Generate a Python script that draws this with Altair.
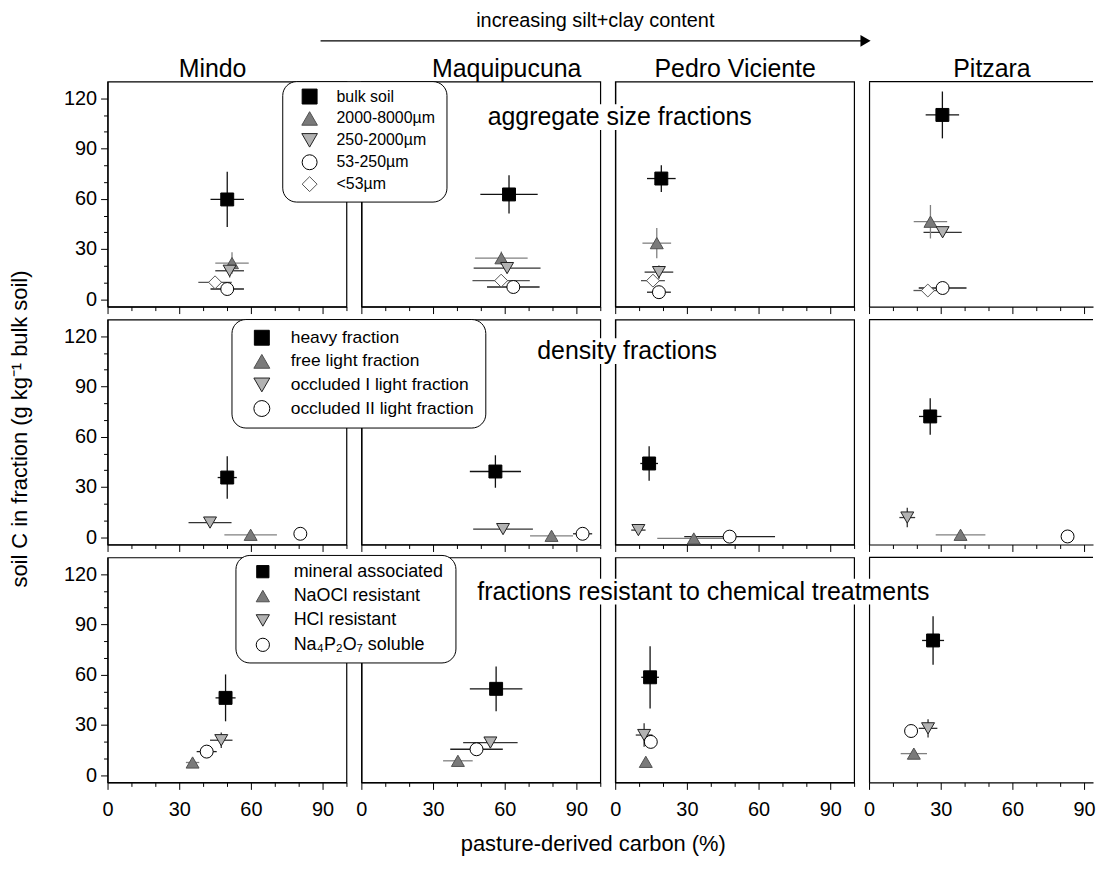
import altair as alt
import pandas as pd

FONT = "Liberation Sans"

SITES = ["Mindo", "Maquipucuna", "Pedro Viciente", "Pitzara"]
GROUPS = ["agg", "dens", "chem"]
GROUP_TITLES = ["aggregate size fractions", "density fractions",
                "fractions resistant to chemical treatments"]
KEYS = ["sq", "tu", "td", "ci", "di"]

AGG_LABELS = ["bulk soil", "2000-8000µm", "250-2000µm", "53-250µm", "<53µm"]
DENS_LABELS = ["heavy fraction", "free light fraction",
               "occluded I light fraction", "occluded II light fraction"]
CHEM_LABELS = ["mineral associated", "NaOCl resistant", "HCl resistant",
               "Na₄P₂O₇ soluble"]

# aggregate size fractions (bulk, 2000-8000, 250-2000, 53-250, <53)
AGG_X = {"Mindo": [50.1, 52.1, 51.1, 50.1, 45.0],
         "Maquipucuna": [61.8, 58.6, 61.0, 63.6, 58.5],
         "Pedro Viciente": [19.3, 17.4, 18.3, 18.3, 15.8],
         "Pitzara": [30.7, 25.7, 30.8, 30.8, 24.6]}
AGG_XE = {"Mindo": [7, 7, 6, 7, 7],
          "Maquipucuna": [12, 11, 14, 11, 12],
          "Pedro Viciente": [6, 6, 6, 5, 5],
          "Pitzara": [7, 7, 8, 10, 6]}
AGG_Y = {"Mindo": [59.6, 21.6, 17.0, 6.1, 10.1],
         "Maquipucuna": [62.6, 24.5, 18.6, 7.3, 11.1],
         "Pedro Viciente": [72.1, 33.5, 16.2, 4.2, 11.1],
         "Pitzara": [110.1, 46.3, 40.0, 6.7, 5.2]}
AGG_YE = {"Mindo": [16.5, 6.4, 4, 0, 0],
          "Maquipucuna": [11.4, 4, 3, 0, 0],
          "Pedro Viciente": [8, 9, 4, 0, 0],
          "Pitzara": [14, 10, 2, 0, 0]}

# density fractions (heavy, free light, occluded I, occluded II)
DENS_X = {"Mindo": [50.1, 59.9, 42.9, 80.7],
          "Maquipucuna": [56.1, 79.6, 59.3, 92.6],
          "Pedro Viciente": [14.2, 32.9, 9.7, 47.9],
          "Pitzara": [25.6, 38.3, 16.0, 83.1]}
DENS_XE = {"Mindo": [4, 11, 9, 0],
           "Maquipucuna": [10.7, 9, 12.5, 4],
           "Pedro Viciente": [3.7, 15.3, 3, 19],
           "Pitzara": [4.7, 10.4, 3.3, 0]}
DENS_Y = {"Mindo": [35.6, 1.4, 8.7, 2.0],
          "Maquipucuna": [39.2, 0.8, 4.8, 2.0],
          "Pedro Viciente": [44.0, -0.8, 4.2, 0.3],
          "Pitzara": [72.1, 1.4, 11.7, 0.4]}
DENS_YE = {"Mindo": [12.7, 0, 0, 0],
           "Maquipucuna": [9.7, 0, 0, 0],
           "Pedro Viciente": [10.3, 0, 0, 0],
           "Pitzara": [10.9, 0, 5.8, 0]}

# chemical fractions (mineral assoc., NaOCl res., HCl res., Na4P2O7 sol.)
CHEM_X = {"Mindo": [49.4, 35.6, 47.6, 41.5],
          "Maquipucuna": [56.4, 40.4, 54.0, 48.2],
          "Pedro Viciente": [14.6, 12.8, 12.1, 14.9],
          "Pitzara": [26.8, 18.75, 24.7, 17.6]}
CHEM_XE = {"Mindo": [4.2, 2.8, 4.7, 4.2],
           "Maquipucuna": [11, 6.2, 11.4, 11],
           "Pedro Viciente": [3.7, 0, 3.5, 0],
           "Pitzara": [4.6, 5.5, 3.9, 0]}
CHEM_Y = {"Mindo": [46.1, 7.5, 20.8, 14.0],
          "Maquipucuna": [51.5, 8.5, 19.4, 15.4],
          "Pedro Viciente": [58.4, 7.9, 23.9, 19.8],
          "Pitzara": [80.4, 12.8, 27.9, 26.3]}
CHEM_YE = {"Mindo": [14, 0, 4.6, 0],
           "Maquipucuna": [13.4, 0, 3, 0],
           "Pedro Viciente": [18.6, 0, 7, 0],
           "Pitzara": [14.5, 0, 5.5, 0]}

X_TITLE = "pasture-derived carbon (%)"
Y_TITLE = "soil C  in fraction (g kg⁻¹ bulk soil)"
ARROW_TEXT = "increasing silt+clay content"

# ---------------------------------------------------------------- data table
records = []
for g, X, XE, Y, YE in [("agg", AGG_X, AGG_XE, AGG_Y, AGG_YE),
                        ("dens", DENS_X, DENS_XE, DENS_Y, DENS_YE),
                        ("chem", CHEM_X, CHEM_XE, CHEM_Y, CHEM_YE)]:
    for s in SITES:
        for k, x, xe, y, ye in zip(KEYS, X[s], XE[s], Y[s], YE[s]):
            records.append(dict(g=g, site=s, key=k, x=x, xe=xe, y=y, ye=ye))
df = pd.DataFrame(records)
DUMMY = pd.DataFrame({"d": [0]})

SHAPE = {"sq": "square", "tu": "triangle-up", "td": "triangle-down",
         "ci": "circle", "di": "diamond"}
FILL = {"sq": "#000000", "tu": "#7a7a7a", "td": "#b2b2b2",
        "ci": "#ffffff", "di": "#ffffff"}
STROKE = {"sq": "#000000", "tu": "#505050", "td": "#202020",
          "ci": "#000000", "di": "#555555"}
ERRC = {"sq": "#111111", "tu": "#808080", "td": "#333333",
        "ci": "#222222", "di": "#555555"}
PT_SIZE = [{"sq": 169, "tu": 169, "td": 160, "ci": 151, "di": 144},
           {"sq": 175, "tu": 175, "td": 165, "ci": 151, "di": 144},
           {"sq": 137, "tu": 160, "td": 150, "ci": 140, "di": 140}]

W, H = 240, 226
W_LAST = 225
YDOM = [-4.4, 130]
TICK_COND = {"condition": {"test": "datum.value % 30 === 0", "value": 7}, "value": 4}
LAB_EXPR = "datum.value % 30 === 0 ? datum.label : ''"


def txt(text, x, y, size, align="center", baseline="middle", angle=0):
    kw = dict(text=text, font=FONT, fontSize=size, align=align,
              baseline=baseline, color="black", clip=False)
    if angle:
        kw["angle"] = angle
    return alt.Chart(DUMMY).mark_text(**kw).encode(x=alt.value(x), y=alt.value(y))


def box(x1, x2, y1, y2, radius=0, stroked=False):
    kw = dict(fill="white", clip=False)
    if radius:
        kw["cornerRadius"] = radius
    if stroked:
        kw.update(stroke="black", strokeWidth=1)
    return alt.Chart(DUMMY).mark_rect(**kw).encode(
        x=alt.value(x1), x2=alt.value(x2), y=alt.value(y1), y2=alt.value(y2))


def sym(key, x, y, size):
    return alt.Chart(DUMMY).mark_point(
        shape=SHAPE[key], strokeWidth=1, size=size, opacity=1, clip=False
    ).encode(x=alt.value(x), y=alt.value(y),
             fill=alt.value(FILL[key]), stroke=alt.value(STROKE[key]))


def legend(labels, x0, x1, y0, y1, sx, tx, ty0, dy, fs, sizes):
    layers = [box(x0, x1, y0, y1, radius=14, stroked=True)]
    for i, lab in enumerate(labels):
        k = KEYS[i]
        layers.append(sym(k, sx, ty0 + i * dy, sizes[k]))
        layers.append(txt(lab, tx, ty0 + i * dy, fs, align="left"))
    return layers


def panel(gi, si):
    g = GROUPS[gi]
    last = si == 3
    w = W if not last else W_LAST
    xmax = 100 if not last else W_LAST / 2.4
    xs = alt.Scale(domain=[0, xmax], nice=False, zero=False)
    ys = alt.Scale(domain=YDOM, nice=False, zero=False)
    xaxis = alt.Axis(values=list(range(0, int(xmax) + 1, 10)), title=None, grid=False,
                     labels=(gi == 2), labelExpr=LAB_EXPR, ticks=True,
                     tickSize=TICK_COND, tickColor="black", tickWidth=1,
                     domain=True, domainColor="black", domainWidth=1.2,
                     labelFont=FONT, labelFontSize=20, labelColor="black",
                     labelPadding=10, labelFlush=False, labelOverlap=False, zindex=0)
    yaxis = alt.Axis(values=list(range(0, 121, 10)), title=None, grid=False,
                     labels=(si == 0), ticks=(si == 0), labelExpr=LAB_EXPR,
                     tickSize=TICK_COND, tickColor="black", tickWidth=1,
                     domain=True, domainColor="black", domainWidth=1.2,
                     labelFont=FONT, labelFontSize=20, labelColor="black",
                     labelPadding=4, labelOverlap=False, zindex=0)

    base = alt.Chart(df).transform_filter(
        f"datum.g === '{g}' && datum.site === '{SITES[si]}'"
    ).transform_calculate(
        xlo="datum.x - datum.xe", xhi="datum.x + datum.xe",
        ylo="datum.y - datum.ye", yhi="datum.y + datum.ye")

    ecol = alt.Color("key:N", scale=alt.Scale(domain=KEYS, range=[ERRC[k] for k in KEYS]),
                     legend=None)
    hbar = base.mark_rule(strokeWidth=1.3).encode(
        x=alt.X("xlo:Q", scale=xs, axis=xaxis), x2="xhi:Q",
        y=alt.Y("y:Q", scale=ys, axis=yaxis), color=ecol)
    vbar = base.mark_rule(strokeWidth=1.3).encode(
        x=alt.X("x:Q", scale=xs, axis=xaxis),
        y=alt.Y("ylo:Q", scale=ys, axis=yaxis), y2="yhi:Q", color=ecol)
    pts = base.mark_point(opacity=1, strokeWidth=1).encode(
        x=alt.X("x:Q", scale=xs, axis=xaxis),
        y=alt.Y("y:Q", scale=ys, axis=yaxis),
        shape=alt.Shape("key:N", scale=alt.Scale(domain=KEYS, range=[SHAPE[k] for k in KEYS]),
                        legend=None),
        fill=alt.Fill("key:N", scale=alt.Scale(domain=KEYS, range=[FILL[k] for k in KEYS]),
                      legend=None),
        stroke=alt.Stroke("key:N", scale=alt.Scale(domain=KEYS, range=[STROKE[k] for k in KEYS]),
                          legend=None),
        size=alt.Size("key:O", scale=alt.Scale(domain=KEYS, range=[PT_SIZE[gi][k] for k in KEYS]),
                      legend=None))
    layers = [hbar, vbar, pts]

    if last:
        layers.append(alt.Chart(DUMMY).mark_rule(color="black", strokeWidth=1.2, clip=False).encode(
            x=alt.value(0), x2=alt.value(w), y=alt.value(0)))

    # column titles
    if gi == 0:
        tx = [105.5, 146, 120.5, 123.5][si]
        layers.append(txt(SITES[si], tx, -5, 25, baseline="alphabetic"))

    # legends (live in the Maquipucuna column, overlapping Mindo)
    if si == 1:
        if gi == 0:
            layers += legend(AGG_LABELS, -79, 86, 0, 121, -52, -25, 15, 22, 16,
                             {"sq": 225, "tu": 246, "td": 246, "ci": 225, "di": 225})
            layers.append(alt.Chart(DUMMY).mark_rule(color="black", strokeWidth=1.2, clip=False).encode(
                x=alt.value(-41), x2=alt.value(505), y=alt.value(-41)))
            layers.append(alt.Chart(DUMMY).mark_point(
                shape="triangle-right", size=70, opacity=1, clip=False).encode(
                x=alt.value(506), y=alt.value(-41),
                fill=alt.value("black"), stroke=alt.value("black")))
            layers.append(txt(ARROW_TEXT, 235, -61, 20))
        elif gi == 1:
            layers += legend(DENS_LABELS, -130, 125, 0, 109, -100, -71, 18.3, 23.7, 17.5,
                             {"sq": 225, "tu": 256, "td": 256, "ci": 256})
        else:
            layers += legend(CHEM_LABELS, -126, 95, -2, 106, -99, -68, 14.3, 24.5, 18,
                             {"sq": 151, "tu": 177, "td": 177, "ci": 177})

    # group annotations with white background
    if si == 2 and gi == 0:
        layers += [box(4.5 - 138, 4.5 + 138, 35.7 - 13, 35.7 + 13),
                   txt(GROUP_TITLES[0], 4.5, 35.7, 25)]
    if si == 2 and gi == 1:
        layers += [box(12 - 95, 12 + 95, 31.7 - 13, 31.7 + 13),
                   txt(GROUP_TITLES[1], 12, 31.7, 25)]
    if si == 3 and gi == 2:
        layers += [box(-166.5 - 233, -166.5 + 233, 34.3 - 13, 34.3 + 13),
                   txt(GROUP_TITLES[2], -166.5, 34.3, 25)]

    # axis titles
    if si == 0 and gi == 1:
        layers.append(txt(Y_TITLE, -88, 110, 22, angle=270))
    if si == 2 and gi == 2:
        layers.append(txt(X_TITLE, -22, 288, 22))

    ch = alt.layer(*layers).properties(width=w, height=H)
    if last:
        ch = ch.properties(view=alt.ViewBackground(stroke="transparent"))
    return ch


panels = [panel(gi, si) for gi in range(3) for si in range(4)]
chart = alt.concat(*panels, columns=4, spacing={"row": 13, "column": 15},
                   bounds="flush").properties(
    padding={"left": 0, "top": 0, "right": 0, "bottom": 5},
    background="white"
).configure_view(stroke="black", strokeWidth=1.2)

chart.save("out.html", embed_options={"renderer": "svg", "actions": False})
